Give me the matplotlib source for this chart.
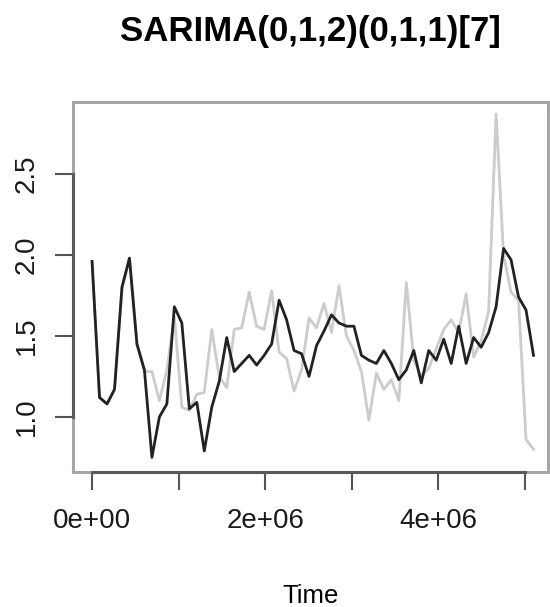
import matplotlib
matplotlib.use("Agg")
import matplotlib.pyplot as plt
from matplotlib.lines import Line2D
import numpy as np

plt.rcParams['font.family'] = ['Liberation Sans', 'DejaVu Sans']

title = "SARIMA(0,1,2)(0,1,1)[7]"
xlabel = "Time"
step = 86400  # seconds per observation
n_obs = 60

fitted = [1.96, 1.12, 1.08, 1.17, 1.80, 1.98, 1.45, 1.29, 0.75, 1.00,
          1.08, 1.68, 1.58, 1.05, 1.09, 0.79, 1.06, 1.22, 1.49, 1.28,
          1.33, 1.38, 1.32, 1.38, 1.45, 1.72, 1.60, 1.41, 1.39, 1.25,
          1.44, 1.53, 1.63, 1.58, 1.56, 1.56, 1.38, 1.35, 1.33, 1.41,
          1.33, 1.23, 1.29, 1.41, 1.21, 1.41, 1.35, 1.48, 1.33, 1.56,
          1.33, 1.49, 1.43, 1.52, 1.68, 2.04, 1.97, 1.74, 1.66, 1.38]

observed = [1.96, 1.12, 1.08, 1.17, 1.80, 1.98, 1.45, 1.28, 1.28, 1.10,
            1.29, 1.62, 1.06, 1.04, 1.14, 1.15, 1.54, 1.25, 1.18, 1.54,
            1.55, 1.77, 1.56, 1.54, 1.78, 1.40, 1.36, 1.16, 1.29, 1.61,
            1.55, 1.70, 1.52, 1.81, 1.50, 1.41, 1.28, 0.98, 1.27, 1.17,
            1.23, 1.10, 1.83, 1.35, 1.25, 1.30, 1.42, 1.54, 1.60, 1.52,
            1.76, 1.37, 1.47, 1.65, 2.87, 2.00, 1.77, 1.72, 0.86, 0.80]

xticks = [0, 1e6, 2e6, 3e6, 4e6, 5e6]
xticklabels = ["0e+00", "", "2e+06", "", "4e+06", ""]
yticks = [1.0, 1.5, 2.0, 2.5]
yticklabels = ["1.0", "1.5", "2.0", "2.5"]

t = np.arange(n_obs) * step

fig = plt.figure(figsize=(5.5, 6.07), dpi=100)
ax = fig.add_axes([73/550, 1-472/607, (548-73)/550, (472-102)/607])

ax.plot(t, observed, color="#cccccc", lw=2.0, zorder=2)
ax.plot(t, fitted, color="#222222", lw=2.0, zorder=3)

ax.set_xlim(-0.22e6, 5.265e6)
ax.set_ylim(0.66, 2.944)

for s in ax.spines.values():
    s.set_color("#a6a6a6")
    s.set_linewidth(2.2)

ax.set_xticks(xticks)
ax.set_xticklabels(xticklabels)
ax.set_yticks(yticks)
ax.set_yticklabels(yticklabels, rotation=90, va="center")
ax.tick_params(axis="both", direction="out", length=13, width=1.5,
               color="#555555", labelsize=20, labelcolor="#1a1a1a")
ax.tick_params(axis="x", pad=13)
ax.tick_params(axis="y", pad=11)

# R-style axis lines spanning first to last tick
ax.add_line(Line2D([xticks[0], xticks[-1]], [0, 0], transform=ax.get_xaxis_transform(),
                   color="#5a5a5a", lw=2.2, clip_on=False, zorder=5))
ax.add_line(Line2D([0, 0], [yticks[0], yticks[-1]], transform=ax.get_yaxis_transform(),
                   color="#5a5a5a", lw=2.2, clip_on=False, zorder=5))

ax.set_xlabel(xlabel, fontsize=18.5, labelpad=36)
fig.text((73+548)/2/550, 1-31/607, title, fontsize=25, fontweight="bold",
         ha="center", va="center")

fig.savefig("out.png", dpi=100)
